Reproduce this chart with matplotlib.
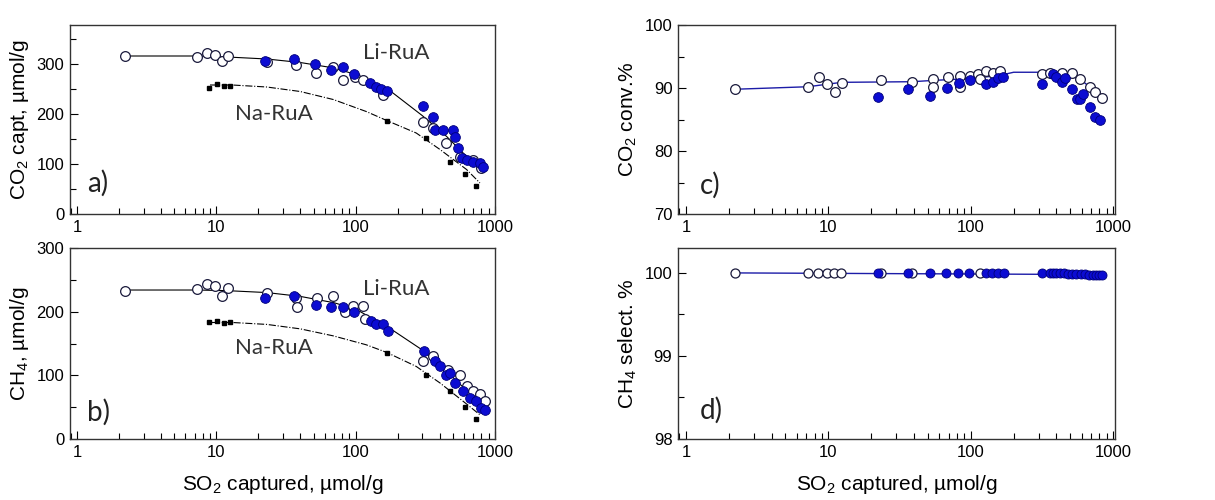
import matplotlib
matplotlib.use("Agg")
import matplotlib.pyplot as plt
from matplotlib.ticker import FixedLocator, FormatStrFormatter, MultipleLocator, LogLocator, NullFormatter

# ---- data ----
# SO2 captured (umol/g) for the Li-RuA open-symbol series
a_open_x = [2.2, 7.3, 8.6, 9.8, 10.9, 12.2, 23, 37.3, 52, 69, 81, 99, 113, 158, 302, 360, 447, 560, 695, 795]
a_open_y = [316, 314, 323, 319, 307, 317, 305, 299, 283, 295, 269, 275, 269, 239, 185, 172, 142, 115, 109, 92]
a_blue_x = [22.4, 36, 51, 66.5, 81.6, 97.8, 127, 141, 153, 169, 305, 360, 371, 425, 501, 515, 545, 575, 625, 697, 778, 822]
a_blue_y = [307, 310, 300, 289, 294, 281, 262, 254, 250, 247, 217, 195, 169, 169, 169, 155, 132, 112, 109, 105, 102, 95]

b_open_x = [2.2, 7.3, 8.6, 9.8, 10.9, 12.2, 23, 37.3, 37.9, 53, 69, 84, 96, 113, 116, 305, 360, 458, 560, 625, 697, 778, 842]
b_open_y = [233, 235, 243, 241, 224, 237, 229, 221, 207, 221, 224, 200, 209, 209, 188, 122, 130, 109, 101, 83, 75, 71, 59]
b_blue_x = [22.4, 36, 52, 66.5, 81.6, 97.8, 129, 141, 158, 171, 311, 371, 400, 447, 475, 515, 590, 660, 736, 795, 842]
b_blue_y = [221, 224, 211, 208, 208, 199, 185, 181, 180, 169, 138, 122, 115, 101, 104, 88, 75, 64, 59, 49, 46]

# Na-RuA points and dash-dot guide curves
na_x = [8.8, 10.1, 11.4, 12.6, 167, 319, 475, 608, 736]
a_na_y = [252, 261, 257, 257, 187, 152, 104, 80, 57]
b_na_y = [183, 186, 182, 183, 135, 101, 75, 50, 31]
na_fit_x = [9, 13, 23, 40, 69, 119, 167, 272, 403, 625, 780]
a_na_fit = [258, 258, 254, 245, 229, 205, 187, 162, 129, 89, 62]
b_na_fit = [183, 183, 180, 173, 162, 148, 136, 114, 88, 55, 38]

# Li-RuA guide curves
li_fit_x = [2.2, 7.3, 12, 23, 40, 70, 100, 170, 300, 450, 600, 820]
a_li_fit = [316, 316, 314, 310, 303, 292, 279, 250, 197, 155, 120, 92]
b_li_fit = [234, 234, 233, 230, 224, 214, 204, 176, 140, 106, 80, 52]

# CO2 conversion, %
c_open_x = [2.2, 7.2, 8.6, 9.8, 11.1, 12.4, 23.6, 39, 54, 54, 69.5, 84, 84, 98.6, 113, 116, 129, 144, 160,
            314, 360, 434, 510, 583, 686, 744, 829]
c_open_y = [89.8, 90.1, 91.7, 90.7, 89.4, 90.8, 91.2, 91.0, 91.4, 90.1, 91.7, 91.9, 90.1, 91.9, 92.2, 91.5,
            92.7, 92.4, 92.7, 92.2, 92.4, 92.4, 92.4, 91.5, 90.1, 89.4, 88.4]
c_blue_x = [22.4, 36.4, 51.6, 67.6, 83, 98.6, 129, 144, 156, 169, 314, 378, 400, 434, 458, 511, 554, 583,
            614, 686, 744, 804]
c_blue_y = [88.6, 89.8, 88.8, 90.0, 90.8, 91.2, 90.6, 91.0, 91.6, 91.8, 90.6, 92.3, 91.8, 91.0, 91.6, 89.9,
            88.3, 88.3, 89.0, 87.0, 85.4, 84.9]
c_fit_x = [2.2, 7.2, 12.4, 39, 54, 100, 160, 200, 314, 400, 510, 600, 700, 830]
c_fit_y = [89.8, 90.2, 90.9, 91.0, 91.2, 91.5, 92.0, 92.5, 92.5, 92.3, 91.9, 91.2, 90.0, 88.3]

# CH4 selectivity, %
d_open_x = [2.2, 7.2, 8.5, 9.8, 11, 12.2, 23.5, 39, 117]
d_open_y = [100, 100, 100, 100, 100, 100, 100, 100, 100]
d_blue_x = [22.4, 36.4, 52, 67, 82, 98, 129, 141, 155, 170, 314, 360, 380, 400, 420, 450, 480, 510, 550,
            590, 630, 680, 720, 760, 800, 830]
d_blue_y = [100, 100, 100, 100, 100, 100, 100, 100, 100, 100, 100, 100, 100, 100, 100, 100, 99.99, 99.99,
            99.99, 99.99, 99.99, 99.98, 99.98, 99.98, 99.98, 99.98]
d_fit_x = [2.2, 830]
d_fit_y = [100, 99.98]

BLUE = "#0c0cd2"
NAVY = "#00007a"
LINEBLUE = "#1c1ca8"

plt.rcParams["mathtext.fontset"] = "custom"
plt.rcParams["mathtext.rm"] = "Liberation Sans"
plt.rcParams["mathtext.it"] = "Liberation Sans:italic"

fig = plt.figure(figsize=(12.15, 5.0), dpi=100)
ax_a = fig.add_axes([0.0576, 0.572, 0.3498, 0.378])
ax_b = fig.add_axes([0.0576, 0.122, 0.3498, 0.382])
ax_c = fig.add_axes([0.558, 0.572, 0.3597, 0.378])
ax_d = fig.add_axes([0.558, 0.122, 0.3597, 0.382])


def style(ax, ylim, major, minor):
    ax.set_xscale("log")
    ax.set_ylim(*ylim)
    ax.xaxis.set_major_locator(FixedLocator([1, 10, 100, 1000]))
    ax.xaxis.set_major_formatter(FormatStrFormatter("%g"))
    ax.xaxis.set_minor_locator(LogLocator(base=10, subs=range(2, 10)))
    ax.xaxis.set_minor_formatter(NullFormatter())
    ax.yaxis.set_major_locator(MultipleLocator(major))
    ax.yaxis.set_minor_locator(MultipleLocator(minor))
    ax.tick_params(which="both", direction="in", top=False, right=False, width=0.8)
    ax.tick_params(which="major", length=6, labelsize=12, pad=4)
    ax.tick_params(which="minor", length=4)
    for lab in ax.get_xticklabels() + ax.get_yticklabels():
        lab.set_fontfamily(["Liberation Sans", "DejaVu Sans"])
    for s in ax.spines.values():
        s.set_linewidth(1.0)
        s.set_color("#333333")


def pts(ax, ox, oy, bx, by, ms=7):
    ax.plot(ox, oy, "o", ms=ms, mfc="white", mec="#1a1a3c", mew=0.9, zorder=3)
    ax.plot(bx, by, "o", ms=ms, mfc=BLUE, mec=NAVY, mew=0.6, zorder=4)


lab_kw = dict(fontfamily=["Liberation Sans", "DejaVu Sans"], fontsize=15)
txt_kw = dict(fontfamily=["Lato", "DejaVu Sans"], fontsize=16, color="#333333")
tag_kw = dict(fontfamily=["Lato", "DejaVu Sans"], fontsize=20, color="#222222")

# a) CO2 captured
ax = ax_a
ax.plot(li_fit_x, a_li_fit, "-", color="black", lw=0.8, zorder=2)
ax.plot(na_fit_x, a_na_fit, "-.", color="black", lw=0.8, zorder=2)
ax.plot(na_x, a_na_y, "s", ms=3, color="black", zorder=3)
pts(ax, a_open_x, a_open_y, a_blue_x, a_blue_y)
ax.set_xlim(0.89, 1000)
style(ax, (0, 378), 100, 50)
ax.set_ylabel("CO$_2$ capt, µmol/g", labelpad=4, **lab_kw)
ax.text(113, 322, "Li-RuA", va="center", **txt_kw)
ax.text(13.6, 199, "Na-RuA", va="center", **txt_kw)
ax.text(0.04, 0.16, "a)", transform=ax.transAxes, va="center", **tag_kw)

# b) CH4 produced
ax = ax_b
ax.plot(li_fit_x, b_li_fit, "-", color="black", lw=0.8, zorder=2)
ax.plot(na_fit_x, b_na_fit, "-.", color="black", lw=0.8, zorder=2)
ax.plot(na_x, b_na_y, "s", ms=3, color="black", zorder=3)
pts(ax, b_open_x, b_open_y, b_blue_x, b_blue_y)
ax.set_xlim(0.89, 1000)
style(ax, (0, 300), 100, 50)
ax.set_ylabel("CH$_4$, µmol/g", labelpad=4, **lab_kw)
ax.set_xlabel("SO$_2$ captured, µmol/g", labelpad=10, **lab_kw)
ax.text(113, 235, "Li-RuA", va="center", **txt_kw)
ax.text(13.6, 143, "Na-RuA", va="center", **txt_kw)
ax.text(0.04, 0.14, "b)", transform=ax.transAxes, va="center", **tag_kw)

# c) CO2 conversion
ax = ax_c
ax.plot(c_fit_x, c_fit_y, "-", color=LINEBLUE, lw=1.0, zorder=2)
pts(ax, c_open_x, c_open_y, c_blue_x, c_blue_y)
ax.set_xlim(0.88, 1030)
style(ax, (70, 100), 10, 5)
ax.set_ylabel("CO$_2$ conv.%", labelpad=4, **lab_kw)
ax.text(0.05, 0.15, "c)", transform=ax.transAxes, va="center", **tag_kw)

# d) CH4 selectivity
ax = ax_d
ax.plot(d_fit_x, d_fit_y, "-", color=LINEBLUE, lw=1.0, zorder=2)
pts(ax, d_open_x, d_open_y, d_blue_x, d_blue_y, ms=6.5)
ax.set_xlim(0.88, 1030)
style(ax, (98, 100.3), 1, 0.5)
ax.set_ylabel("CH$_4$ select. %", labelpad=4, **lab_kw)
ax.set_xlabel("SO$_2$ captured, µmol/g", labelpad=10, **lab_kw)
ax.text(0.05, 0.15, "d)", transform=ax.transAxes, va="center", **tag_kw)

fig.savefig("out.png", dpi=100, facecolor="white")
